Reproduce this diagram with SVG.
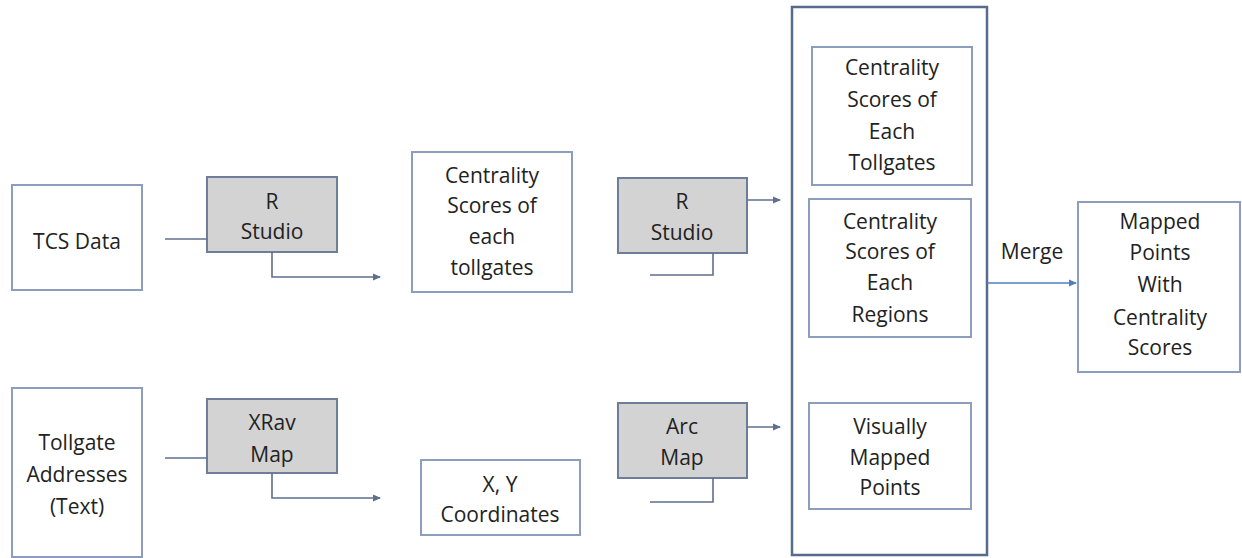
<svg xmlns="http://www.w3.org/2000/svg" width="1242" height="558" viewBox="0 0 1242 558">
<style>
.box{fill:#fff;stroke:#8c9dbd;stroke-width:2}
.tool{fill:#d3d3d3;stroke:#6e7e9a;stroke-width:2}
.cont{fill:#fff;stroke:#586b8c;stroke-width:2.5}
.t{font-family:"Open Sans",sans-serif;font-size:21px;fill:#222;text-anchor:middle}
.ln{fill:none;stroke:#5f6f8c;stroke-width:1.6}
.bl{fill:none;stroke:#4f7fc0;stroke-width:1.6}
</style>
<defs>
<marker id="ah" markerWidth="8" markerHeight="8" refX="7" refY="4" orient="auto" markerUnits="userSpaceOnUse"><path d="M0,0.5 L8,4 L0,7.5 Z" fill="#5f6f8c"/></marker>
<marker id="ahb" markerWidth="8" markerHeight="8" refX="7" refY="4" orient="auto" markerUnits="userSpaceOnUse"><path d="M0,0.5 L8,4 L0,7.5 Z" fill="#4f7fc0"/></marker>
</defs>
<rect width="1242" height="558" fill="#fff"/>
<g id="container"><rect class="cont" x="792" y="7" width="195" height="548"/></g>
<g id="tcs"><rect class="box" x="12" y="185" width="130" height="105"/><text class="t" x="77" y="249">TCS Data</text></g>
<g id="rstudio1"><rect class="tool" x="207" y="177" width="130" height="75"/><text class="t" x="272" y="209">R</text><text class="t" x="272" y="239">Studio</text></g>
<g id="tollgate"><rect class="box" x="12" y="388" width="130" height="169"/><text class="t" x="77" y="450">Tollgate</text><text class="t" x="77" y="482">Addresses</text><text class="t" x="77" y="514">(Text)</text></g>
<g id="xrav"><rect class="tool" x="207" y="399" width="130" height="74"/><text class="t" x="272" y="430">XRav</text><text class="t" x="272" y="462">Map</text></g>
<g id="cs-each"><rect class="box" x="412" y="152" width="160" height="140"/><text class="t" x="492" y="183">Centrality</text><text class="t" x="492" y="213">Scores of</text><text class="t" x="492" y="244">each</text><text class="t" x="492" y="275">tollgates</text></g>
<g id="xy"><rect class="box" x="421" y="460" width="159" height="75"/><text class="t" x="500" y="492">X, Y</text><text class="t" x="500" y="522">Coordinates</text></g>
<g id="rstudio2"><rect class="tool" x="618" y="178" width="129" height="75"/><text class="t" x="682" y="209">R</text><text class="t" x="682" y="240">Studio</text></g>
<g id="arcmap"><rect class="tool" x="618" y="403" width="129" height="75"/><text class="t" x="682" y="434">Arc</text><text class="t" x="682" y="465">Map</text></g>
<g id="cs-tollgates"><rect class="box" x="812" y="47" width="160" height="138"/><text class="t" x="892" y="75">Centrality</text><text class="t" x="892" y="107">Scores of</text><text class="t" x="892" y="139">Each</text><text class="t" x="892" y="170">Tollgates</text></g>
<g id="cs-regions"><rect class="box" x="809" y="199" width="162" height="138"/><text class="t" x="890" y="229">Centrality</text><text class="t" x="890" y="259">Scores of</text><text class="t" x="890" y="290">Each</text><text class="t" x="890" y="322">Regions</text></g>
<g id="visual"><rect class="box" x="809" y="403" width="162" height="106"/><text class="t" x="890" y="434">Visually</text><text class="t" x="890" y="465">Mapped</text><text class="t" x="890" y="495">Points</text></g>
<g id="mapped"><rect class="box" x="1078" y="202" width="162" height="170"/><text class="t" x="1160" y="229">Mapped</text><text class="t" x="1160" y="260">Points</text><text class="t" x="1160" y="292">With</text><text class="t" x="1160" y="325">Centrality</text><text class="t" x="1160" y="355">Scores</text></g>
<g id="connectors">
<path class="ln" d="M165,239 H207"/>
<path class="ln" d="M272,252 V277 H380" marker-end="url(#ah)"/>
<path class="ln" d="M165,458 H207"/>
<path class="ln" d="M272,473 V498 H380" marker-end="url(#ah)"/>
<path class="ln" d="M747,200 H780" marker-end="url(#ah)"/>
<path class="ln" d="M713,253 V275 H650"/>
<path class="ln" d="M747,427 H780" marker-end="url(#ah)"/>
<path class="ln" d="M713,478 V502 H650"/>
<path class="bl" d="M987,283 H1076" marker-end="url(#ahb)"/>
<text class="t" x="1032" y="259">Merge</text>
</g>
</svg>
